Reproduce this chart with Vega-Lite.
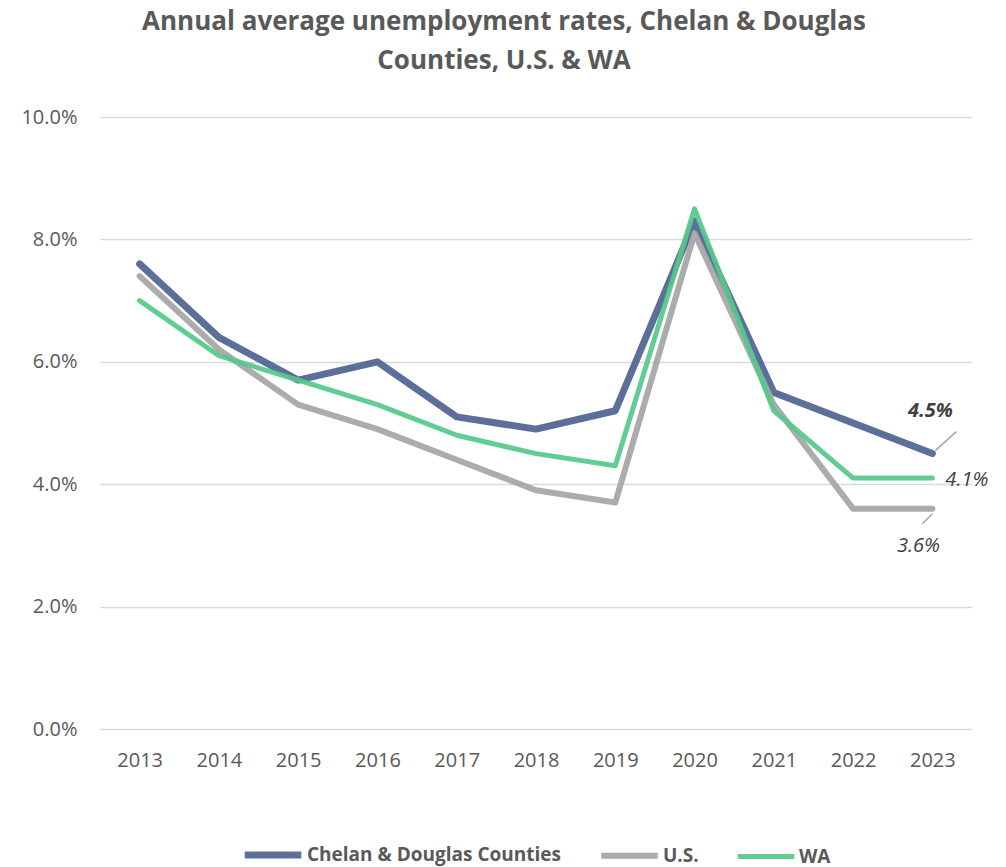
{
  "$schema": "https://vega.github.io/schema/vega-lite/v6.json",
  "autosize": {"type": "none"},
  "width": 872,
  "height": 612,
  "padding": {"left": 100, "top": 117, "right": 34, "bottom": 138},
  "background": "white",
  "config": {
    "font": "Open Sans",
    "view": {"stroke": null},
    "axis": {"labelColor": "#595959", "labelFontSize": 20, "labelFont": "Open Sans"},
    "legend": {"layout": {"bottom": {"anchor": "middle"}}}
  },
  "title": {
    "text": ["Annual average unemployment rates, Chelan & Douglas", "Counties, U.S. & WA"],
    "fontSize": 26,
    "fontWeight": "bold",
    "color": "#595959",
    "font": "Open Sans",
    "lineHeight": 39,
    "anchor": "middle",
    "dx": -32,
    "offset": 33
  },
  "datasets": {
    "rates": [
      {"year": "2013", "series": "Chelan & Douglas Counties", "rate": 0.076},
      {"year": "2014", "series": "Chelan & Douglas Counties", "rate": 0.064},
      {"year": "2015", "series": "Chelan & Douglas Counties", "rate": 0.057},
      {"year": "2016", "series": "Chelan & Douglas Counties", "rate": 0.060},
      {"year": "2017", "series": "Chelan & Douglas Counties", "rate": 0.051},
      {"year": "2018", "series": "Chelan & Douglas Counties", "rate": 0.049},
      {"year": "2019", "series": "Chelan & Douglas Counties", "rate": 0.052},
      {"year": "2020", "series": "Chelan & Douglas Counties", "rate": 0.083},
      {"year": "2021", "series": "Chelan & Douglas Counties", "rate": 0.055},
      {"year": "2022", "series": "Chelan & Douglas Counties", "rate": 0.050},
      {"year": "2023", "series": "Chelan & Douglas Counties", "rate": 0.045},
      {"year": "2013", "series": "U.S.", "rate": 0.074},
      {"year": "2014", "series": "U.S.", "rate": 0.062},
      {"year": "2015", "series": "U.S.", "rate": 0.053},
      {"year": "2016", "series": "U.S.", "rate": 0.049},
      {"year": "2017", "series": "U.S.", "rate": 0.044},
      {"year": "2018", "series": "U.S.", "rate": 0.039},
      {"year": "2019", "series": "U.S.", "rate": 0.037},
      {"year": "2020", "series": "U.S.", "rate": 0.081},
      {"year": "2021", "series": "U.S.", "rate": 0.053},
      {"year": "2022", "series": "U.S.", "rate": 0.036},
      {"year": "2023", "series": "U.S.", "rate": 0.036},
      {"year": "2013", "series": "WA", "rate": 0.070},
      {"year": "2014", "series": "WA", "rate": 0.061},
      {"year": "2015", "series": "WA", "rate": 0.057},
      {"year": "2016", "series": "WA", "rate": 0.053},
      {"year": "2017", "series": "WA", "rate": 0.048},
      {"year": "2018", "series": "WA", "rate": 0.045},
      {"year": "2019", "series": "WA", "rate": 0.043},
      {"year": "2020", "series": "WA", "rate": 0.085},
      {"year": "2021", "series": "WA", "rate": 0.052},
      {"year": "2022", "series": "WA", "rate": 0.041},
      {"year": "2023", "series": "WA", "rate": 0.041}
    ]
  },
  "data": {"name": "rates"},
  "encoding": {
    "x": {
      "field": "year", "type": "ordinal", "title": null,
      "scale": {"type": "point", "padding": 0.5},
      "axis": {"labelAngle": 0, "domain": false, "ticks": false, "grid": false, "labelPadding": 21}
    },
    "y": {
      "field": "rate", "type": "quantitative", "title": null,
      "scale": {"domain": [0, 0.1]},
      "axis": {
        "values": [0, 0.02, 0.04, 0.06, 0.08, 0.1],
        "format": ".1%",
        "domain": false, "ticks": false, "labelPadding": 23,
        "gridColor": "#d9d9d9", "gridWidth": 1.5
      }
    }
  },
  "layer": [
    {
      "mark": {"type": "line", "strokeCap": "round", "strokeJoin": "round", "opacity": 0.92},
      "encoding": {
        "color": {
          "field": "series", "type": "nominal", "title": null,
          "scale": {"domain": ["Chelan & Douglas Counties", "U.S.", "WA"], "range": ["#4e6391", "#a5a5a5", "#55c98a"]},
          "legend": {
            "orient": "bottom", "direction": "horizontal", "offset": 53,
            "symbolType": "stroke", "symbolSize": 3200, "symbolStrokeWidth": 6,
            "labelFontSize": 19, "labelFontWeight": "bold", "labelColor": "#595959",
            "labelFont": "Open Sans", "columnPadding": 28, "labelOffset": 2, "labelLimit": 400
          }
        },
        "strokeWidth": {
          "field": "series", "type": "nominal",
          "scale": {"domain": ["Chelan & Douglas Counties", "U.S.", "WA"], "range": [7, 5, 5]},
          "legend": null
        }
      }
    },
    {
      "transform": [{"filter": "datum.year == '2023' && datum.series == 'Chelan & Douglas Counties'"}],
      "mark": {"type": "rule", "color": "#a5a5a5", "strokeWidth": 1.5, "xOffset": 3, "yOffset": -3, "x2Offset": 24, "y2Offset": -22},
      "encoding": {"x2": {"field": "year"}, "y2": {"field": "rate"}}
    },
    {
      "transform": [{"filter": "datum.year == '2023' && datum.series == 'U.S.'"}],
      "mark": {"type": "rule", "color": "#a5a5a5", "strokeWidth": 1.5, "xOffset": 0, "yOffset": 5, "x2Offset": -10, "y2Offset": 15},
      "encoding": {"x2": {"field": "year"}, "y2": {"field": "rate"}}
    },
    {
      "transform": [{"filter": "datum.year == '2023' && datum.series == 'Chelan & Douglas Counties'"}],
      "mark": {"type": "text", "fontSize": 20, "fontStyle": "italic", "fontWeight": "bold", "color": "#404040", "dx": -2, "dy": -43, "align": "center", "baseline": "middle"},
      "encoding": {"text": {"field": "rate", "type": "quantitative", "format": ".1%"}}
    },
    {
      "transform": [{"filter": "datum.year == '2023' && datum.series == 'WA'"}],
      "mark": {"type": "text", "fontSize": 20, "fontStyle": "italic", "color": "#404040", "dx": 13, "dy": 2, "align": "left", "baseline": "middle"},
      "encoding": {"text": {"field": "rate", "type": "quantitative", "format": ".1%"}}
    },
    {
      "transform": [{"filter": "datum.year == '2023' && datum.series == 'U.S.'"}],
      "mark": {"type": "text", "fontSize": 20, "fontStyle": "italic", "color": "#404040", "dx": -14, "dy": 37, "align": "center", "baseline": "middle"},
      "encoding": {"text": {"field": "rate", "type": "quantitative", "format": ".1%"}}
    }
  ]
}
